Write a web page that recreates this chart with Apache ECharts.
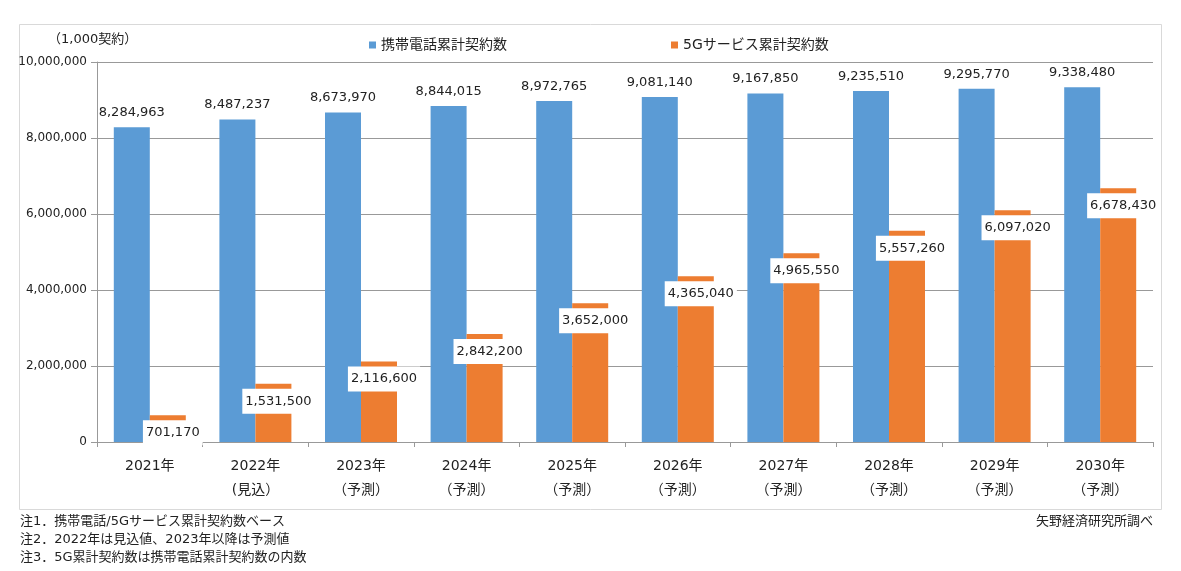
<!DOCTYPE html>
<html>
<head>
<meta charset="utf-8">
<script src="https://cdn.jsdelivr.net/npm/echarts@6/dist/echarts.min.js"></script>
<style>
html,body{margin:0;padding:0;background:#fff;}
#chart{width:1181px;height:571px;}
</style>
</head>
<body>
<div id="chart"></div>
<script>
var categories = ['2021年', '2022年\n(見込）', '2023年\n（予測）', '2024年\n（予測）', '2025年\n（予測）', '2026年\n（予測）', '2027年\n（予測）', '2028年\n（予測）', '2029年\n（予測）', '2030年\n（予測）'];
var mobileTotal = [8284963, 8487237, 8673970, 8844015, 8972765, 9081140, 9167850, 9235510, 9295770, 9338480];
var fiveGTotal = [701170, 1531500, 2116600, 2842200, 3652000, 4365040, 4965550, 5557260, 6097020, 6678430];
var seriesNames = ['携帯電話累計契約数', '5Gサービス累計契約数'];
var unitLabel = '（1,000契約）';
var notes = ['注1．携帯電話/5Gサービス累計契約数ベース', '注2．2022年は見込値、2023年以降は予測値', '注3．5G累計契約数は携帯電話累計契約数の内数'];
var sourceLabel = '矢野経済研究所調べ';

var FONT = '"DejaVu Sans", "Noto Sans CJK JP", sans-serif';
var fmt = function (v) { return Number(v).toLocaleString('en-US'); };

var chart = echarts.init(document.getElementById('chart'));
chart.setOption({
  backgroundColor: '#fff',
  animation: false,
  textStyle: { fontFamily: FONT, color: '#222' },
  grid: { left: 97, right: 28, top: 62, bottom: 129, containLabel: false },
  legend: {
    left: 364, top: 33,
    itemWidth: 7, itemHeight: 7, itemGap: 164,
    icon: 'rect',
    textStyle: { fontFamily: FONT, fontSize: 14, color: '#222' },
    data: seriesNames
  },
  xAxis: {
    type: 'category',
    data: categories,
    axisLine: { lineStyle: { color: '#999' } },
    axisTick: { show: true, alignWithLabel: false, length: 5, lineStyle: { color: '#999' } },
    axisLabel: { fontFamily: FONT, fontSize: 14, color: '#222', lineHeight: 24, margin: 12 }
  },
  yAxis: {
    type: 'value',
    min: 0, max: 10000000, interval: 2000000,
    axisLine: { show: true, lineStyle: { color: '#999' } },
    axisTick: { show: true, length: 6, lineStyle: { color: '#999' } },
    splitLine: { lineStyle: { color: '#999' } },
    axisLabel: { fontFamily: FONT, fontSize: 12, color: '#222', margin: 10, formatter: fmt }
  },
  series: [
    {
      name: seriesNames[0], type: 'bar', data: mobileTotal,
      barWidth: 36, barGap: '0%',
      itemStyle: { color: '#5B9BD5' },
      label: { show: true, position: 'top', distance: 8, fontFamily: FONT, fontSize: 13, color: '#222', formatter: function (p) { return fmt(p.value); } }
    },
    {
      name: seriesNames[1], type: 'bar', data: fiveGTotal,
      barWidth: 36, barGap: '0%',
      itemStyle: { color: '#ED7D31' },
      label: { show: true, position: 'insideTop', distance: 5, offset: [5, 0], fontFamily: FONT, fontSize: 13, color: '#222', backgroundColor: '#fff', padding: [6, 3], formatter: function (p) { return fmt(p.value); } }
    }
  ],
  graphic: [
    { type: 'rect', left: 17, top: 22, shape: { width: 1142, height: 485 }, style: { fill: 'none', stroke: '#d9d9d9', lineWidth: 1 }, silent: true, z: -1 },
    { type: 'text', left: 48, top: 33, style: { text: unitLabel, font: '13px ' + FONT, fill: '#222' } },
    { type: 'text', left: 20, top: 515, style: { text: notes[0], font: '13px ' + FONT, fill: '#222' } },
    { type: 'text', left: 20, top: 533, style: { text: notes[1], font: '13px ' + FONT, fill: '#222' } },
    { type: 'text', left: 20, top: 551, style: { text: notes[2], font: '13px ' + FONT, fill: '#222' } },
    { type: 'text', right: 28, top: 515, style: { text: sourceLabel, font: '13px ' + FONT, fill: '#222' } }
  ]
});
</script>
</body>
</html>
